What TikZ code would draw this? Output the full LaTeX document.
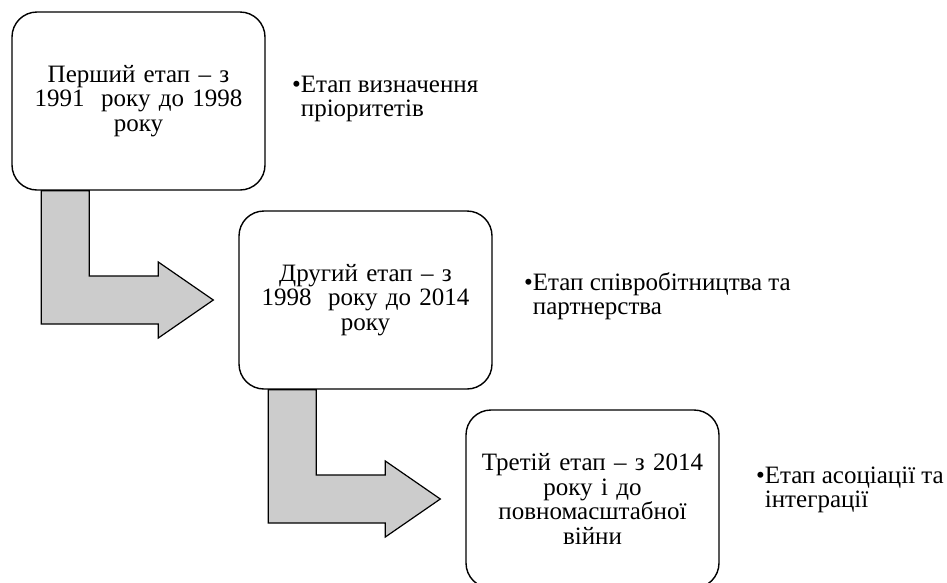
\documentclass[tikz,border=0pt]{standalone}
\usepackage{fontspec}
\setmainfont{Liberation Serif}
\usepackage{tikz}
\usetikzlibrary{positioning}
\tikzset{% 
  stage/.style = {
    shape=rectangle, rounded corners=25pt, draw, line width=1.4pt,
    minimum width=253pt, minimum height=178pt, align=center,
    text width=235pt, font=\fontsize{25}{24.5}\selectfont
  },
  note/.style = {
    align=left, inner sep=0pt, font=\fontsize{25}{23.5}\selectfont
  },
  bent/.style = {draw, line width=1.2pt, fill=black!20, line join=miter}
}
% bent block arrow from the bottom of one stage to the side of the next
\newcommand\stagearrow[2]{%
  \coordinate (s) at ([xshift=30pt]#1.south west);
  \coordinate (t) at ([xshift=-25pt]#2.west);
  \draw[bent] (s) -- ++(48pt,0) |- ([xshift=-55pt,yshift=24pt]t)
    -- ([xshift=-55pt,yshift=38pt]t) -- (t)
    -- ([xshift=-55pt,yshift=-38pt]t) -- ([xshift=-55pt,yshift=-24pt]t)
    -| (s) -- cycle;
}

\begin{document}
\begin{tikzpicture}[x=1pt,y=1pt]
  \useasboundingbox (0,0) rectangle (947,-582);
  \clip (0,0) rectangle (947,-582);
  % stages
  \node[stage] (b1) at (138.5,-101) {Перший етап – з\\1991\ \ року до 1998\\року};
  \node[stage] (b2) at (365.5,-300) {Другий етап – з\\1998\ \ року до 2014\\року};
  \node[stage] (b3) at (592.5,-499) {Третій етап – з 2014\\року і до\\повномасштабної\\війни};
  % arrows
  \stagearrow{b1}{b2}
  \stagearrow{b2}{b3}
  % notes
  \node[note, right=35pt of b1, yshift=2pt] (n1) {\llap{\textbullet}Етап визначення\\пріоритетів};
  \node[note, right=40pt of b2, yshift=4pt] (n2) {\llap{\textbullet}Етап співробітництва та\\партнерства};
  \node[note, right=45pt of b3, yshift=9pt] (n3) {\llap{\textbullet}Етап асоціації та\\інтеграції};
\end{tikzpicture}
\end{document}
